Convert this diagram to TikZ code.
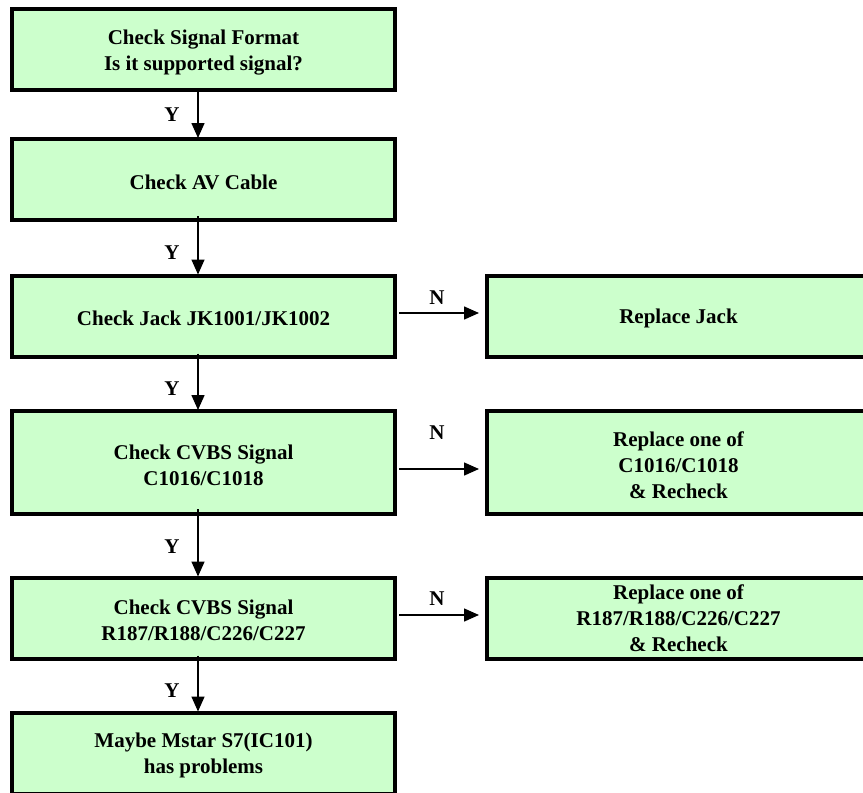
\documentclass[tikz,border=0pt]{standalone}
\usepackage{fontspec}
\setmainfont{Liberation Serif}
\usetikzlibrary{arrows.meta}
\definecolor{boxgreen}{HTML}{CCFFCC}
\newcommand\tstrut{\rule{0pt}{20pt}}
\begin{document}
\begin{tikzpicture}[x=1pt,y=-1pt,
  box/.style={draw=black, fill=boxgreen, line width=4pt, minimum width=383pt,
    minimum height=81pt, align=center, inner sep=0pt,
    font=\fontsize{21}{26}\selectfont\bfseries},
  arr/.style={line width=1.5pt, -{Triangle[length=15pt,width=13pt]}},
  lbl/.style={inner sep=0pt, font=\fontsize{21}{26}\selectfont\bfseries}]
\useasboundingbox (0,0) rectangle (863,793);
\clip (0,0) rectangle (863,793);
\fill[white] (0,0) rectangle (863,793);

\node[box] (b1) at (203.5,49.5) {\tstrut Check Signal Format\\Is it supported signal?};
\node[box] (b2) at (203.5,179.5) {\tstrut Check AV Cable};
\node[box] (b3) at (203.5,316) {\tstrut Check Jack JK1001/JK1002};
\node[box, minimum height=103pt] (b5) at (203.5,462.5) {\tstrut Check CVBS Signal\\C1016/C1018};
\node[box] (b7) at (203.5,618) {\tstrut Check CVBS Signal\\R187/R188/C226/C227};
\node[box] (b9) at (203.5,753) {\tstrut Maybe Mstar S7(IC101)\\has problems};

\node[box] (r3) at (678.5,316) {\tstrut Replace Jack};
\node[box, minimum height=103pt] (r5) at (678.5,462.5) {\tstrut Replace one of\\C1016/C1018\\\& Recheck};
\node[box] (r7) at (678.5,618) {Replace one of\\R187/R188/C226/C227\\\& Recheck};

% vertical Y arrows
\draw[arr] ([xshift=-5.5pt,yshift=1pt]b1.south) -- ([xshift=-5.5pt,yshift=-1pt]b2.north);
\draw[arr] ([xshift=-5.5pt,yshift=6pt]b2.south) -- ([xshift=-5.5pt,yshift=-1pt]b3.north);
\draw[arr] ([xshift=-5.5pt,yshift=5pt]b3.south) -- ([xshift=-5.5pt,yshift=-1pt]b5.north);
\draw[arr] ([xshift=-5.5pt,yshift=7pt]b5.south) -- ([xshift=-5.5pt,yshift=-1pt]b7.north);
\draw[arr] ([xshift=-5.5pt,yshift=5pt]b7.south) -- ([xshift=-5.5pt,yshift=-1pt]b9.north);

\node[lbl] (y1) at (172,115) {Y};
\node[lbl] (y2) at (172,253) {Y};
\node[lbl] (y3) at (172,389) {Y};
\node[lbl] (y4) at (172,547) {Y};
\node[lbl] (y5) at (172,691) {Y};

% horizontal N arrows
\draw[arr] ([xshift=2pt,yshift=3pt]b3.east) -- ([xshift=-6pt,yshift=3pt]r3.west);
\draw[arr] ([xshift=2pt,yshift=-6.5pt]b5.east) -- ([xshift=-6pt,yshift=-6.5pt]r5.west);
\draw[arr] ([xshift=2pt,yshift=3pt]b7.east) -- ([xshift=-6pt,yshift=3pt]r7.west);

\node[lbl] (n3) at (437,298) {N};
\node[lbl] (n5) at (437,433) {N};
\node[lbl] (n7) at (437,599) {N};
\end{tikzpicture}
\end{document}
